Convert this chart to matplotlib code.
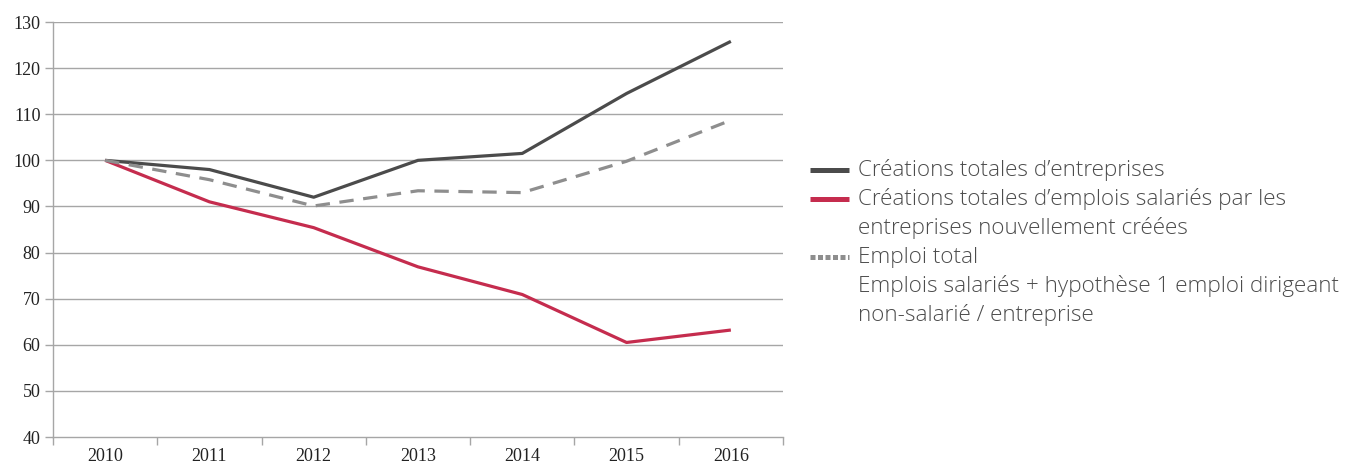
import matplotlib
matplotlib.use("Agg")
import matplotlib.pyplot as plt
from matplotlib.lines import Line2D
import numpy as np

years = ["2010", "2011", "2012", "2013", "2014", "2015", "2016"]
creations_entreprises = [100, 98, 92, 100, 101.5, 114.5, 125.8]
creations_emplois = [100, 91, 85.4, 76.9, 70.9, 60.5, 63.2]
emploi_total = [100, 95.8, 90.1, 93.4, 93.0, 99.8, 108.7]
yticks = [40, 50, 60, 70, 80, 90, 100, 110, 120, 130]

legend_lines = [
    ["Créations totales d’entreprises"],
    ["Créations totales d’emplois salariés par les",
     "entreprises nouvellement créées"],
    ["Emploi total",
     "Emplois salariés + hypothèse 1 emploi dirigeant",
     "non-salarié / entreprise"],
]

dark = "#4b4b4b"
red = "#c52c4e"
grey = "#8e8e8e"
axis_col = "#a6a6a6"

fig = plt.figure(figsize=(13.48, 4.65), dpi=100)
ax = fig.add_axes([53 / 1348, 1 - 437 / 465, (783 - 53) / 1348, (437 - 22) / 465])

x = np.arange(len(years))
ax.plot(x, creations_entreprises, color=dark, lw=2.3, solid_capstyle="butt", zorder=3)
ax.plot(x, creations_emplois, color=red, lw=2.3, solid_capstyle="butt", zorder=3)
ax.plot(x, emploi_total, color=grey, lw=2.3, dashes=(4.5, 3), zorder=3)

ax.set_xlim(-0.5, len(years) - 0.5)
ax.set_ylim(40, 130)
ax.set_yticks(yticks)
ax.set_yticklabels([str(v) for v in yticks])
ax.set_xticks(x)
ax.set_xticklabels(years)
ax.set_xticks(np.arange(-0.5, len(years)), minor=True)

for v in yticks[1:]:
    ax.axhline(v, color=axis_col, lw=1.0, zorder=1)

for s in ["top", "right"]:
    ax.spines[s].set_visible(False)
for s in ["left", "bottom"]:
    ax.spines[s].set_color(axis_col)
    ax.spines[s].set_linewidth(1.0)

ax.tick_params(axis="y", which="major", length=6, width=1, color=axis_col,
               labelsize=13, labelcolor="#222222", pad=3)
ax.tick_params(axis="x", which="major", length=0, labelsize=13,
               labelcolor="#222222", pad=8)
ax.tick_params(axis="x", which="minor", length=6, width=1, color=axis_col)
for lab in ax.get_xticklabels() + ax.get_yticklabels():
    lab.set_fontfamily("Liberation Serif")

# Legend drawn beside the plot
W, H = 1348, 465
line_h = 29
y0 = 170
styles = [
    dict(color=dark, lw=3.6, solid_capstyle="butt"),
    dict(color=red, lw=3.6, solid_capstyle="butt"),
    dict(color=grey, lw=3.6, dashes=(1.0, 0.5)),
]
row = 0
for entry, st in zip(legend_lines, styles):
    yy = y0 + row * line_h
    fig.add_artist(Line2D([810 / W, 849 / W], [1 - yy / H, 1 - yy / H],
                          transform=fig.transFigure, **st))
    for k, txt in enumerate(entry):
        yl = y0 + (row + k) * line_h
        fig.text(858 / W, 1 - yl / H, txt, fontsize=16.2, color="#4c4c4c",
                 family="Open Sans", fontweight="light", va="center", ha="left")
    row += len(entry)

fig.savefig("out.png", dpi=100)
